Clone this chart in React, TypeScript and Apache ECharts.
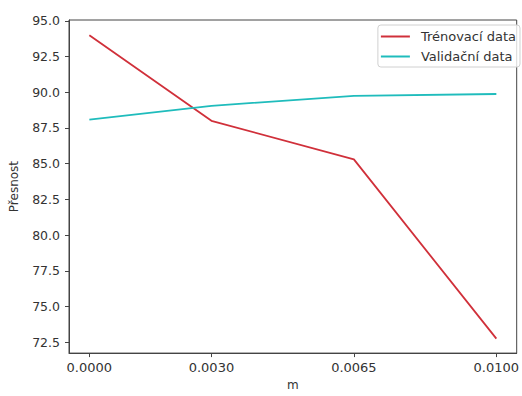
import React, { useEffect, useRef } from "react";
import * as echarts from "echarts";

const mValues = [0.0, 0.003, 0.0065, 0.01];
const trainAcc = [94.0, 88.0, 85.3, 72.75];
const valAcc = [88.08, 89.05, 89.75, 89.88];
const xTicks = [0.0, 0.003, 0.0065, 0.01];
const yTicks = [72.5, 75.0, 77.5, 80.0, 82.5, 85.0, 87.5, 90.0, 92.5, 95.0];
const seriesNames = ["Trénovací data", "Validační data"];

export default function App() {
  const ref = useRef<HTMLDivElement>(null);
  useEffect(() => {
    if (!ref.current) return;
    const chart = echarts.init(ref.current, undefined, { renderer: "svg" });
    const font = "DejaVu Sans";
    chart.setOption({
      animation: false,
      backgroundColor: "#ffffff",
      textStyle: { fontFamily: font },
      grid: {
        left: 67,
        right: 1,
        top: 20,
        bottom: 38,
        show: true,
        borderColor: "#444",
        borderWidth: 1,
        backgroundColor: "transparent",
      },
      legend: {
        orient: "vertical",
        right: 2,
        top: 25,
        padding: [5, 4, 4, 3],
        itemWidth: 29,
        itemHeight: 2,
        itemGap: 7,
        icon: "rect",
        borderColor: "#d0d0d0",
        borderWidth: 1,
        borderRadius: 3,
        backgroundColor: "rgba(255,255,255,0.8)",
        textStyle: { fontFamily: font, fontSize: 13, color: "#333", padding: [0, 0, 0, 6] },
        data: seriesNames,
      },
      xAxis: {
        type: "value",
        min: -0.0005,
        max: 0.0105,
        name: "m",
        nameLocation: "middle",
        nameGap: 22,
        nameTextStyle: { fontFamily: font, fontSize: 12, color: "#333" },
        splitLine: { show: false },
        axisLine: { show: true, onZero: false, lineStyle: { color: "#444" } },
        axisTick: { show: true, length: 4, customValues: xTicks, lineStyle: { color: "#444" } },
        axisLabel: {
          customValues: xTicks,
          margin: 8,
          fontFamily: font,
          fontSize: 13,
          color: "#333",
          formatter: (v: number) => v.toFixed(4),
        },
      },
      yAxis: {
        type: "value",
        min: 71.74,
        max: 95.06,
        name: "Přesnost",
        nameLocation: "middle",
        nameGap: 49,
        nameTextStyle: { fontFamily: font, fontSize: 12, color: "#333" },
        splitLine: { show: false },
        axisLine: { show: true, onZero: false, lineStyle: { color: "#444" } },
        axisTick: { show: true, length: 4, customValues: yTicks, lineStyle: { color: "#444" } },
        axisLabel: {
          customValues: yTicks,
          margin: 9,
          fontFamily: font,
          fontSize: 12.5,
          color: "#333",
          formatter: (v: number) => v.toFixed(1),
        },
      },
      series: [
        {
          name: seriesNames[0],
          type: "line",
          data: mValues.map((m, i) => [m, trainAcc[i]]),
          showSymbol: false,
          color: "#d0303a",
          lineStyle: { width: 1.8, color: "#d0303a" },
        },
        {
          name: seriesNames[1],
          type: "line",
          data: mValues.map((m, i) => [m, valAcc[i]]),
          showSymbol: false,
          color: "#1fbcbc",
          lineStyle: { width: 1.8, color: "#1fbcbc" },
        },
      ],
    });
    return () => chart.dispose();
  }, []);
  return (
    <div
      ref={ref}
      style={{ position: "fixed", left: 0, top: 0, width: 522, height: 396 }}
    />
  );
}
